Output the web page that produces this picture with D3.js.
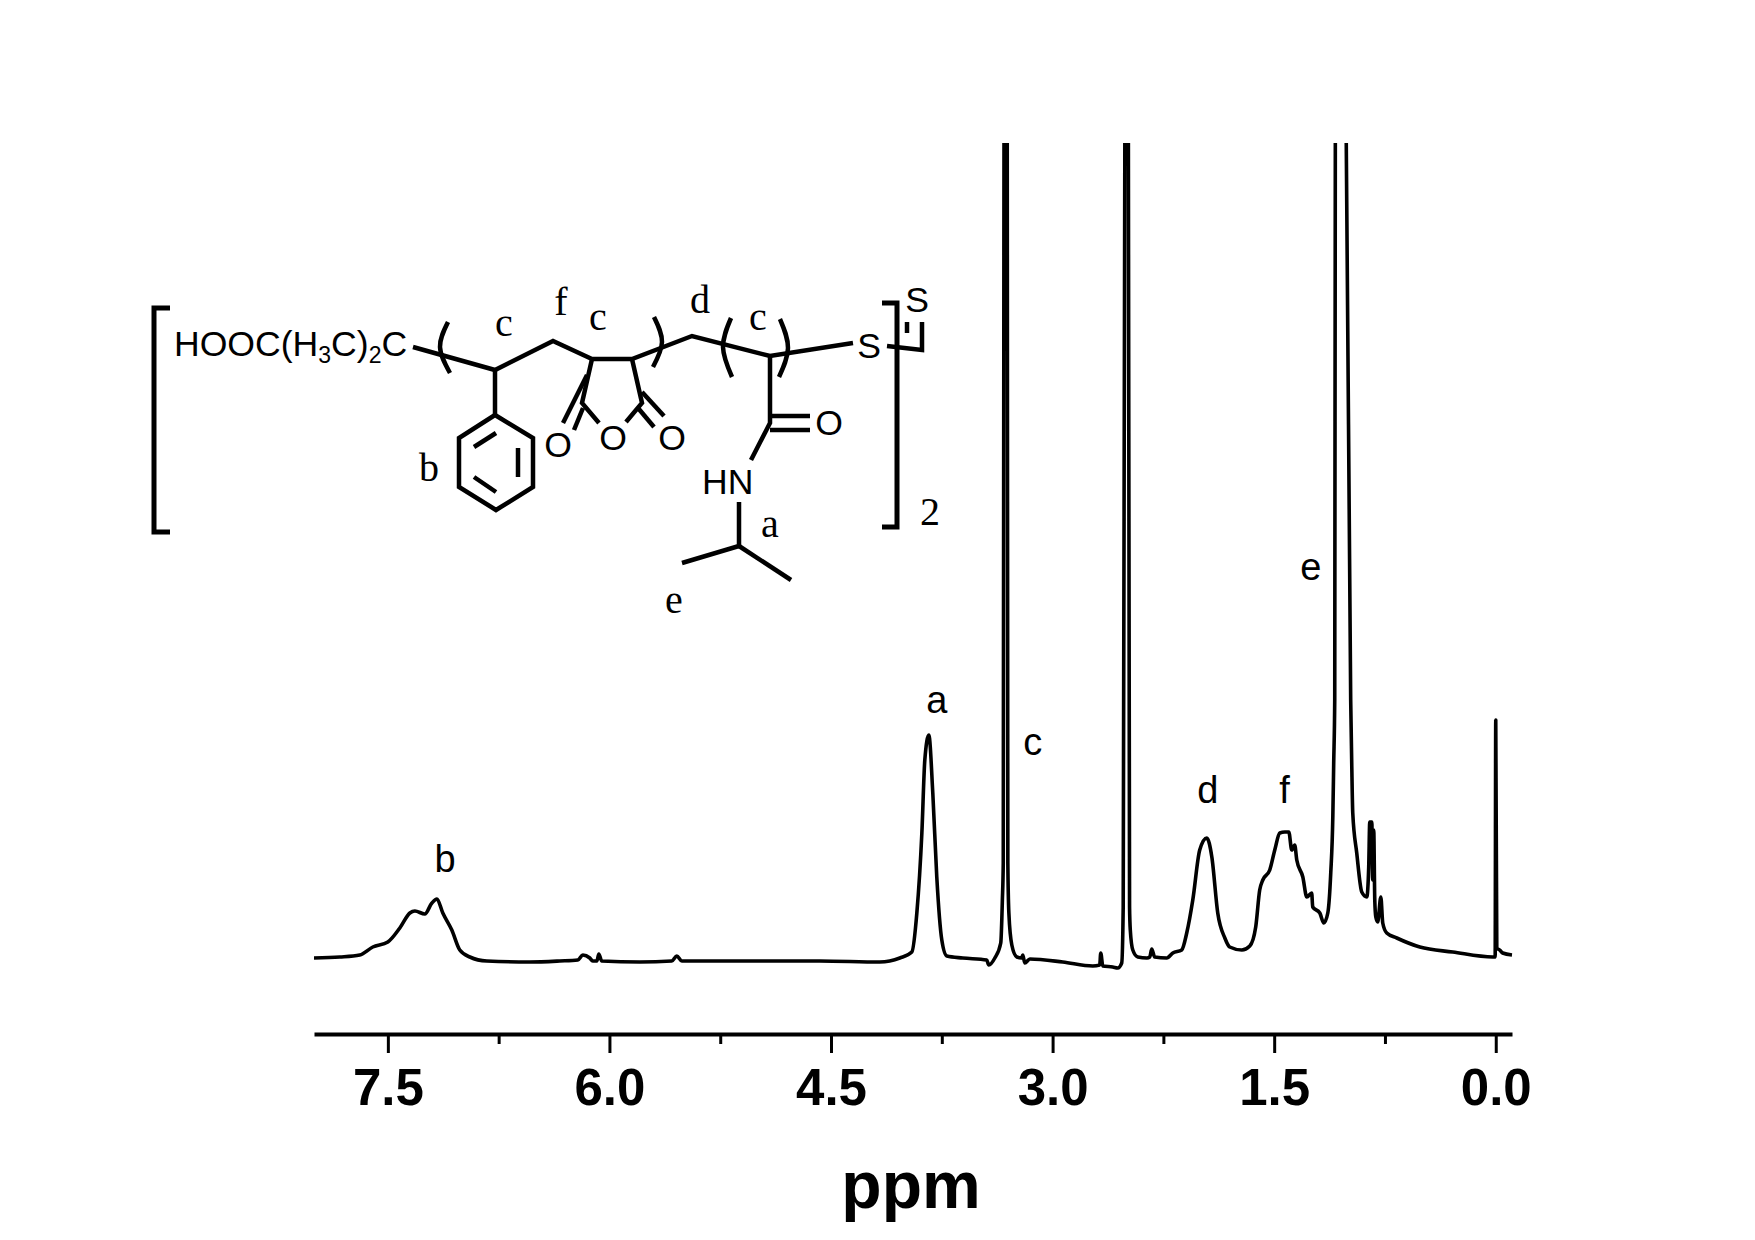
<!DOCTYPE html>
<html><head><meta charset="utf-8">
<script src="https://cdn.jsdelivr.net/npm/d3@7/dist/d3.min.js"></script>
<style>html,body{margin:0;padding:0;background:#fff}svg{display:block}text{fill:#000}</style>
</head><body><svg id="c" width="1755" height="1240"></svg>
<script>
const ppmValues = [8.0,7.825,7.69,7.602,7.5,7.419,7.351,7.317,7.25,7.202,7.168,7.128,7.067,7.013,6.945,6.83,6.539,6.336,6.214,6.18,6.133,6.113,6.085,6.072,6.052,5.794,5.578,5.544,5.51,4.982,4.576,4.17,4.034,3.953,3.919,3.885,3.865,3.838,3.811,3.784,3.75,3.716,3.608,3.446,3.432,3.391,3.351,3.34,3.334,3.329,3.318,3.307,3.303,3.296,3.276,3.242,3.209,3.202,3.188,3.154,2.931,2.728,2.681,2.674,2.66,2.593,2.559,2.532,2.522,2.511,2.499,2.487,2.479,2.474,2.457,2.423,2.361,2.342,2.329,2.309,2.227,2.186,2.126,2.092,2.051,2.004,1.956,1.922,1.882,1.834,1.801,1.719,1.665,1.625,1.598,1.577,1.53,1.496,1.462,1.428,1.401,1.381,1.361,1.347,1.306,1.279,1.246,1.239,1.191,1.164,1.137,1.117,1.103,1.097,1.09,1.086,1.049,1.012,0.982,0.975,0.968,0.941,0.907,0.873,0.86,0.853,0.839,0.833,0.826,0.819,0.812,0.799,0.778,0.765,0.738,0.67,0.514,0.291,0.02,0.004,0,-0.007,-0.027,-0.047,-0.11];
const intensityValues = [2,3,5,13,18,32,47,49,46,57,61,47,30,10,3,-1,-2,-1,0,5,2,-1,-1,6,-1,-2,-1,4,-1,-1,-1,-2,2,8,47,127,200,225,167,83,20,4,2,0,-5,2,17,60,97,817,1000,817,97,47,15,3,2,5,-3,1,-2,-6,-5,7,-6,-7,-8,-3,53,817,1000,817,53,30,10,3,2,3,11,3,2,7,10,27,60,110,122,103,47,22,13,10,14,33,70,80,90,110,127,128,128,110,115,100,83,63,67,53,47,37,47,87,143,197,260,817,1000,817,260,197,147,107,68,63,93,138,138,80,130,60,43,38,63,37,27,22,13,8,3,3,240,12,10,7,5];
const majorTicks = [7.5,6.0,4.5,3.0,1.5,0.0];
const minorTicks = [6.75,5.25,3.75,2.25,0.75];
const xTitle = "ppm";
const peakLabels = ["a","b","c","d","e","f"];
const peakPpm = [3.784,7.112,3.134,1.95,1.252,1.43];
const peakHeights = [247,88,205,157,380,157];

const svg = d3.select("#c");
const x = d3.scaleLinear().domain([8.0,-0.11]).range([314,1512]);
const y = d3.scaleLinear().domain([0,817]).range([960,143]);
const INK = "#000";

svg.append("clipPath").attr("id","plot").append("rect").attr("x",300).attr("y",143).attr("width",1230).attr("height",860);
const line = d3.line().x(d=>x(d[0])).y(d=>y(d[1])).curve(d3.curveMonotoneX);
svg.append("path").datum(ppmValues.map((p,i)=>[p,intensityValues[i]])).attr("clip-path","url(#plot)")
  .attr("d",line).attr("fill","none").attr("stroke",INK).attr("stroke-width",3.6).attr("stroke-linejoin","round");

// axis
const axisG = svg.append("g").attr("transform","translate(0,1034)");
const major = d3.axisBottom(x).tickValues(majorTicks).tickSize(19).tickSizeOuter(0).tickFormat(d3.format(".1f"));
axisG.call(major);
axisG.select(".domain").attr("stroke",INK).attr("stroke-width",4);
axisG.selectAll(".tick line").attr("stroke",INK).attr("stroke-width",3);
axisG.selectAll(".tick text").attr("font-family","'Liberation Sans'").attr("font-weight","bold").attr("font-size",51).attr("y",71).attr("dy",0);
const minor = d3.axisBottom(x).tickValues(minorTicks).tickSize(10).tickSizeOuter(0).tickFormat("");
const minorG = svg.append("g").attr("transform","translate(0,1034)").call(minor);
minorG.select(".domain").remove();
minorG.selectAll(".tick line").attr("stroke",INK).attr("stroke-width",3);

svg.append("text").text(xTitle).attr("x",911).attr("y",1208).attr("text-anchor","middle")
  .attr("font-family","'Liberation Sans'").attr("font-weight","bold").attr("font-size",66);

// peak labels
const labG = svg.append("g").attr("font-family","'Liberation Sans'").attr("font-size",38).attr("text-anchor","middle");
peakLabels.forEach((l,i)=>labG.append("text").text(l).attr("x",x(peakPpm[i])).attr("y",y(peakHeights[i])));

// structure
const mol = svg.append("g").attr("fill","none").attr("stroke",INK).attr("stroke-width",4.5);
const seg = pts => mol.append("path").attr("d",d3.line()(pts));
const curve = pts => mol.append("path").attr("d",d3.line().curve(d3.curveNatural)(pts));
seg([[170,308],[154,308],[154,532],[170,532]]).attr("stroke-width",5);
seg([[882,303],[897,303],[897,527],[882,527]]).attr("stroke-width",5);
seg([[413,347],[495,370],[553,341],[592,359],[632,359],[692,336],[770,356],[853,343]]);
seg([[495,370],[495,415]]);
seg([[495,415],[533,438],[533,487],[496,510],[459,487],[459,438],[495,415]]);
seg([[496,433],[474,447]]); seg([[518,448],[518,477]]); seg([[474,477],[496,492]]);
seg([[592,359],[582,403],[599,423]]);
seg([[587,375],[563,423]]); seg([[583,408],[574,430]]);
seg([[632,359],[642,403],[626,422]]);
seg([[642,392],[664,416]]); seg([[638,408],[654,427]]);
seg([[770,356],[770,423],[751,460]]);
seg([[770,416],[810,416]]); seg([[770,430],[810,430]]);
seg([[739,502],[739,546],[682,563]]); seg([[739,546],[791,580]]);
seg([[887,346],[922,350],[922,322]]); seg([[907,322],[907,333]]);
curve([[448,322],[440,347],[450,373]]);
curve([[654,317],[662,342],[653,367]]);
curve([[731,318],[723,347],[732,377]]);
curve([[780,319],[788,348],[779,377]]);

const atoms = svg.append("g").attr("font-family","'Liberation Sans'").attr("font-size",35.6);
const hooc = atoms.append("text").attr("x",174).attr("y",356);
hooc.append("tspan").text("HOOC(H");
hooc.append("tspan").text("3").attr("font-size",23).attr("dy",7);
hooc.append("tspan").text("C)").attr("dy",-7);
hooc.append("tspan").text("2").attr("font-size",23).attr("dy",7);
hooc.append("tspan").text("C").attr("dy",-7);
[["O",558,457],["O",613,450],["O",672,450],["O",829,435],["S",869,358],["S",917,312]].forEach(a=>
  atoms.append("text").text(a[0]).attr("x",a[1]).attr("y",a[2]).attr("text-anchor","middle"));
atoms.append("text").text("HN").attr("x",702).attr("y",494);

const tim = svg.append("g").attr("font-family","'Liberation Serif'").attr("font-size",40).attr("text-anchor","middle");
[["c",504,336],["f",561,315],["c",598,330],["b",429,481],["d",700,313],["c",758,330],["a",770,537],["e",674,613],["2",930,525]].forEach(a=>
  tim.append("text").text(a[0]).attr("x",a[1]).attr("y",a[2]));
</script></body></html>
